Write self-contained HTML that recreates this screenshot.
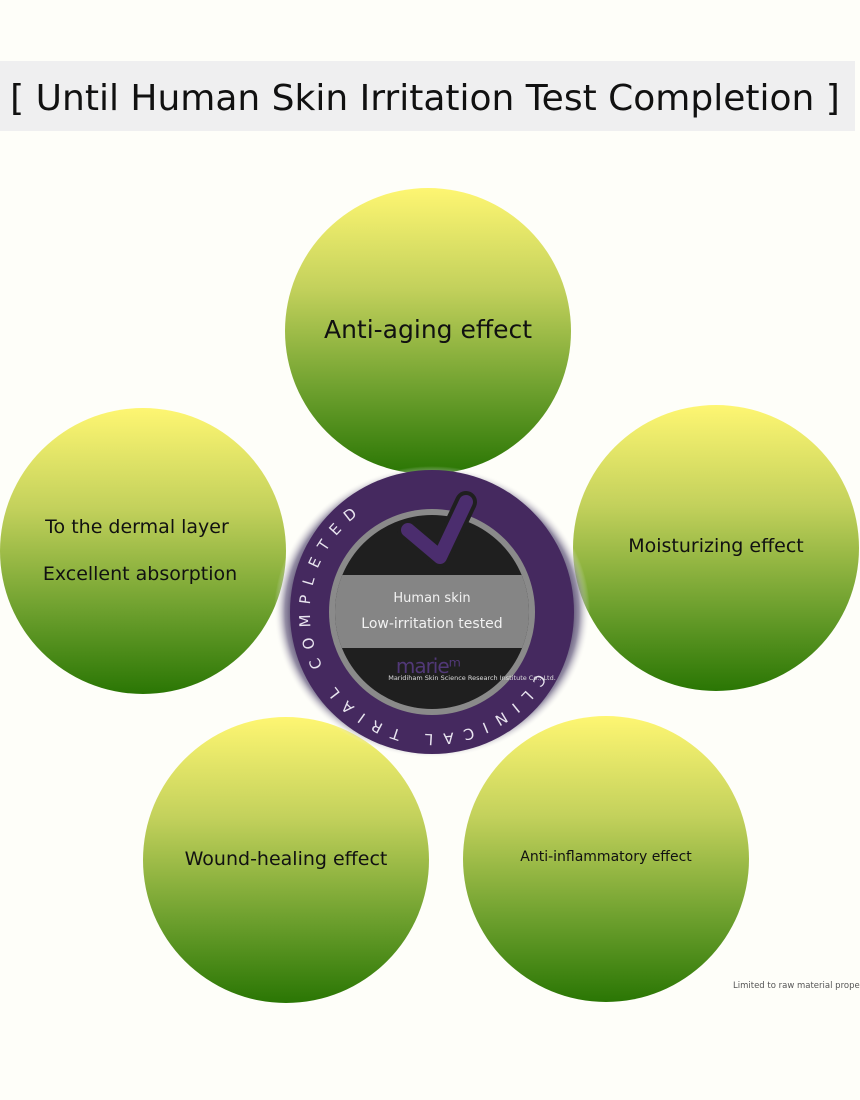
<!DOCTYPE html>
<html><head><meta charset="utf-8"><style>
html,body{margin:0;padding:0;background:#fefef9;}
svg{display:block;font-family:"DejaVu Sans","Liberation Sans",sans-serif;}
</style></head><body>
<svg width="860" height="1100" viewBox="0 0 860 1100" xmlns="http://www.w3.org/2000/svg">
<defs>
<linearGradient id="g" x1="0" y1="0" x2="0" y2="1">
<stop offset="0" stop-color="#fef672"/>
<stop offset="0.35" stop-color="#c3d15c"/>
<stop offset="0.7" stop-color="#6fa12f"/>
<stop offset="1" stop-color="#2a7604"/>
</linearGradient>
<radialGradient id="halo" cx="0.5" cy="0.5" r="0.5">
<stop offset="0.86" stop-color="#3a2a55"/>
<stop offset="0.93" stop-color="#7a7290" stop-opacity="0.8"/>
<stop offset="1" stop-color="#fefef9" stop-opacity="0"/>
</radialGradient>
<path id="tp" d="M537.7,673 A122,122 0 1,1 326.3,551 A122,122 0 1,1 537.7,673"/>
</defs>
<rect width="860" height="1100" fill="#fefef9"/>
<rect x="0" y="61" width="855" height="70" fill="#efeff0"/>
<text x="425" y="110" font-size="36" text-anchor="middle" fill="#111">[ Until Human Skin Irritation Test Completion ]</text>

<circle cx="428" cy="331" r="143" fill="url(#g)"/>
<circle cx="143" cy="551" r="143" fill="url(#g)"/>
<circle cx="716" cy="548" r="143" fill="url(#g)"/>
<circle cx="286" cy="860" r="143" fill="url(#g)"/>
<circle cx="606" cy="859" r="143" fill="url(#g)"/>

<text x="428" y="338" font-size="25" text-anchor="middle" fill="#111">Anti-aging effect</text>
<text x="137" y="533" font-size="19" text-anchor="middle" fill="#111">To the dermal layer</text>
<text x="140" y="580" font-size="19" text-anchor="middle" fill="#111">Excellent absorption</text>
<text x="716" y="552" font-size="19" text-anchor="middle" fill="#111">Moisturizing effect</text>
<text x="286" y="865" font-size="19" text-anchor="middle" fill="#111">Wound-healing effect</text>
<text x="606" y="861" font-size="14" text-anchor="middle" fill="#111">Anti-inflammatory effect</text>
<text x="733" y="988" font-size="8.5" fill="#555">Limited to raw material properties</text>

<ellipse cx="432" cy="612" rx="158" ry="146" fill="url(#halo)"/>
<circle cx="432" cy="612" r="142" fill="#45295f"/>
<circle cx="432" cy="612" r="103" fill="#8a8a8a"/>
<circle cx="432" cy="612" r="97" fill="#1f1f1f"/>
<clipPath id="cc"><circle cx="432" cy="612" r="97"/></clipPath>
<rect x="320" y="575" width="230" height="73" fill="#858585" clip-path="url(#cc)"/>
<path d="M408,530 L440,557 L466,502" fill="none" stroke="#1f1f1f" stroke-width="22" stroke-linecap="round" stroke-linejoin="round"/>
<path d="M408,530 L440,557 L466,502" fill="none" stroke="#4b2d6e" stroke-width="14" stroke-linecap="round" stroke-linejoin="round"/>
<text x="432" y="602" font-size="13" text-anchor="middle" fill="#f2f2f2">Human skin</text>
<text x="432" y="628" font-size="14" text-anchor="middle" fill="#f2f2f2">Low-irritation tested</text>
<text x="428" y="673" font-size="20" text-anchor="middle" fill="#5e3f8e" opacity="0.8" letter-spacing="-1">marie&#x1D50;</text>
<text x="472" y="680" font-size="6.5" text-anchor="middle" fill="#ddd">Maridiham Skin Science Research Institute Co., Ltd.</text>
<text font-size="15" fill="#e8e4ef" letter-spacing="9.5"><textPath href="#tp">CLINICAL TRIAL COMPLETED</textPath></text>
</svg>
</body></html>
